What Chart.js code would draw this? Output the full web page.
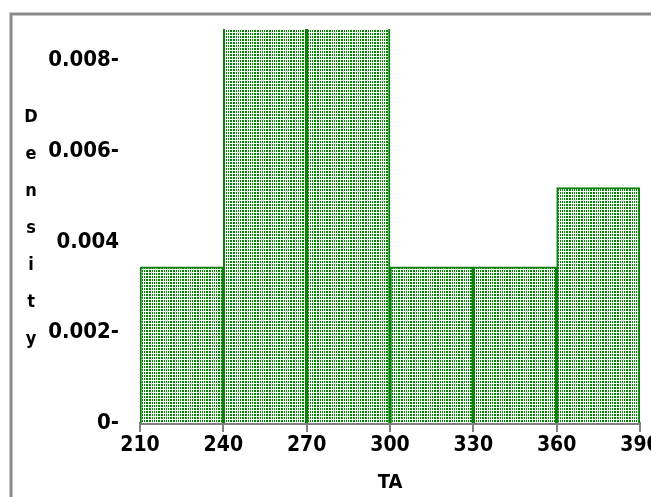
<!DOCTYPE html>
<html>
<head>
<meta charset="utf-8">
<script src="https://cdn.jsdelivr.net/npm/chart.js@4/dist/chart.umd.min.js"></script>
<style>
  html, body { margin: 0; padding: 0; background: #fff; }
  canvas { display: block; }
</style>
</head>
<body>
<canvas id="c" width="651" height="497"></canvas>
<script>
// histogram of TA, bins of width 30
const binMids = [225, 255, 285, 315, 345, 375];
const density = [0.00345, 0.0088, 0.0088, 0.00345, 0.00345, 0.0052];
const xTicks = [210, 240, 270, 300, 330, 360, 390];
const yTicks = [0, 0.002, 0.004, 0.006, 0.008];
const yTickLabels = ["0-", "0.002-", "0.004", "0.006-", "0.008-"];
const yTitle = ["D", "e", "n", "s", "i", "t", "y"];

const FONT = "'DejaVu Sans Condensed', 'DejaVu Sans', sans-serif";
const GREEN = "#0a800a";
const GREY = "#808080";

// dotted green fill like the old SAS hatch
function makeHatch() {
  const c = document.createElement("canvas");
  c.width = 12; c.height = 3;
  const g = c.getContext("2d");
  g.fillStyle = "#fff";
  g.fillRect(0, 0, 12, 3);
  g.fillStyle = "rgb(0,135,0)";
  for (const x of [0, 2, 3, 5, 6, 8, 10]) g.fillRect(x, 0, 1, 2);
  return g.createPattern(c, "repeat");
}

const frame = {
  id: "frame",
  beforeDraw(chart) {
    const ctx = chart.ctx;
    ctx.save();
    ctx.strokeStyle = "#8a8a8a";
    ctx.lineWidth = 3;
    ctx.beginPath();
    ctx.moveTo(11, chart.height);
    ctx.lineTo(11, 14);
    ctx.lineTo(chart.width, 14);
    ctx.stroke();
    ctx.restore();
  },
  afterDraw(chart) {
    // stacked "Density" title
    const ctx = chart.ctx;
    ctx.save();
    ctx.fillStyle = "#000";
    ctx.font = "bold condensed 18px " + FONT;
    ctx.textAlign = "center";
    ctx.textBaseline = "middle";
    yTitle.forEach((ch, i) => ctx.fillText(ch, 31, 117 + i * 37));
    ctx.restore();
  }
};

const noPad = s => { s.paddingLeft = 0; s.paddingRight = 0; s.paddingTop = 0; s.paddingBottom = 0; };

new Chart(document.getElementById("c"), {
  type: "bar",
  data: {
    datasets: [{
      data: binMids.map((x, i) => ({ x, y: density[i] })),
      backgroundColor: makeHatch(),
      borderColor: GREEN,
      borderWidth: { top: 2, left: 2, right: 2, bottom: 0 },
      borderSkipped: "start",
      barPercentage: 1,
      categoryPercentage: 1,
      clip: 0
    }]
  },
  options: {
    responsive: false,
    animation: false,
    layout: { padding: { left: 0, right: 11, top: 29, bottom: 0 } },
    plugins: { legend: { display: false }, tooltip: { enabled: false } },
    scales: {
      x: {
        type: "linear",
        offset: false,
        z: 1,
        min: 210,
        max: 390,
        afterBuildTicks: s => { s.ticks = xTicks.map(v => ({ value: v })); },
        afterFit: s => { s.height = 74; noPad(s); },
        grid: { drawOnChartArea: false, offset: false, color: GREY, lineWidth: 2, tickLength: 9 },
        border: { color: GREY, width: 3 },
        ticks: { color: "#000", font: { family: FONT, size: 21, weight: "bold condensed" }, padding: 1, maxRotation: 0 },
        title: { display: true, text: "TA", color: "#000", font: { family: FONT, size: 20, weight: "bold condensed" }, padding: { top: 0, bottom: 2 } }
      },
      y: {
        min: 0,
        max: 0.0087,
        afterBuildTicks: s => { s.ticks = yTicks.map(v => ({ value: v })); },
        afterFit: s => { s.width = 140; noPad(s); },
        grid: { display: false },
        border: { display: false },
        ticks: {
          color: "#000",
          font: { family: FONT, size: 22, weight: "bold condensed" },
          padding: 13,
          callback: (v, i) => yTickLabels[i]
        }
      }
    }
  },
  plugins: [frame]
});
</script>
</body>
</html>
